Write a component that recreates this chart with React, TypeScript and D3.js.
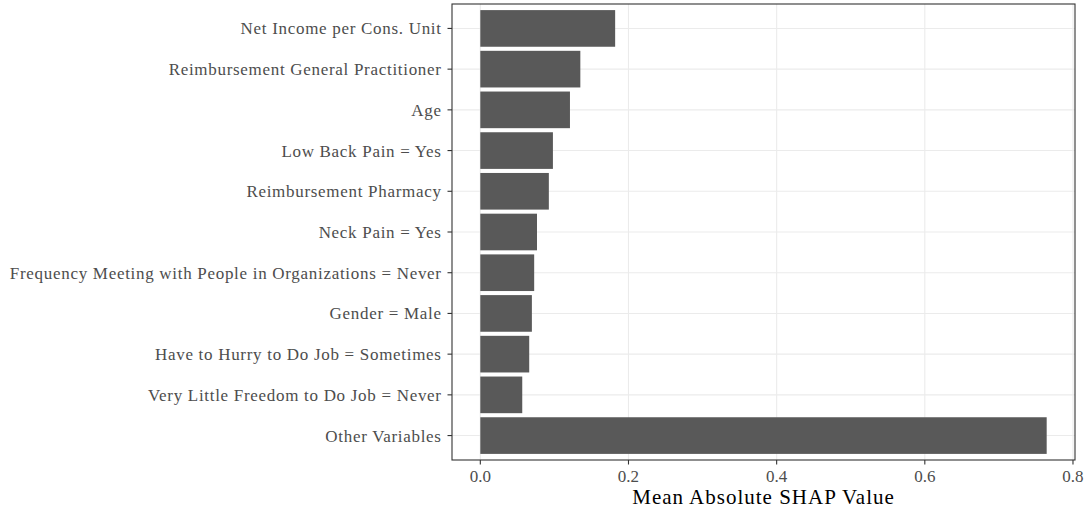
import * as d3 from "d3";

const features = [
  "Net Income per Cons. Unit",
  "Reimbursement General Practitioner",
  "Age",
  "Low Back Pain = Yes",
  "Reimbursement Pharmacy",
  "Neck Pain = Yes",
  "Frequency Meeting with People in Organizations = Never",
  "Gender = Male",
  "Have to Hurry to Do Job = Sometimes",
  "Very Little Freedom to Do Job = Never",
  "Other Variables",
];
const shapValues = [0.182, 0.135, 0.121, 0.098, 0.0925, 0.0765, 0.0727, 0.0696, 0.066, 0.0566, 0.7645];
const xTicks = [0, 0.2, 0.4, 0.6, 0.8];

const WIDTH = 1088;
const HEIGHT = 511;
const PANEL = { left: 452, right: 1075, top: 4, bottom: 460 };
const FONT = "'Liberation Serif', serif";
const BAR_FILL = "#595959";
const GRID = "#ebebeb";
const TEXT = "#4d4d4d";

export default function App() {
  const maxVal = d3.max(shapValues) ?? 1;
  const pad = maxVal * 0.05;

  const x = d3
    .scaleLinear()
    .domain([-pad, maxVal + pad])
    .range([PANEL.left, PANEL.right]);

  const y = d3
    .scaleBand<string>()
    .domain(features)
    .range([PANEL.top, PANEL.bottom])
    .paddingInner(0.1)
    .paddingOuter(0.15);

  const bw = y.bandwidth();

  return (
    <svg
      width={WIDTH}
      height={HEIGHT}
      style={{ position: "absolute", left: 0, top: 0, background: "#fff" }}
    >
      <rect x={0} y={0} width={WIDTH} height={HEIGHT} fill="#fff" />

      {/* grid */}
      {xTicks.map((t) => (
        <line
          key={"gx" + t}
          x1={x(t)}
          x2={x(t)}
          y1={PANEL.top}
          y2={PANEL.bottom}
          stroke={GRID}
          strokeWidth={1.1}
        />
      ))}
      {features.map((f) => (
        <line
          key={"gy" + f}
          x1={PANEL.left}
          x2={PANEL.right}
          y1={(y(f) ?? 0) + bw / 2}
          y2={(y(f) ?? 0) + bw / 2}
          stroke={GRID}
          strokeWidth={1.1}
        />
      ))}

      {/* bars */}
      {features.map((f, i) => (
        <rect
          key={"b" + f}
          x={x(0)}
          y={y(f)}
          width={x(shapValues[i]) - x(0)}
          height={bw}
          fill={BAR_FILL}
        />
      ))}

      {/* panel border */}
      <rect
        x={PANEL.left}
        y={PANEL.top}
        width={PANEL.right - PANEL.left}
        height={PANEL.bottom - PANEL.top}
        fill="none"
        stroke="#333"
        strokeWidth={1.1}
      />

      {/* y axis */}
      {features.map((f) => {
        const cy = (y(f) ?? 0) + bw / 2;
        return (
          <g key={"ty" + f}>
            <line x1={PANEL.left - 4.5} x2={PANEL.left} y1={cy} y2={cy} stroke="#333" strokeWidth={1.1} />
            <text
              x={PANEL.left - 10.3}
              y={cy}
              dy="0.35em"
              textAnchor="end"
              fontFamily={FONT}
              fontSize={17}
              letterSpacing={0.7}
              fill={TEXT}
            >
              {f}
            </text>
          </g>
        );
      })}

      {/* x axis */}
      {xTicks.map((t) => (
        <g key={"tx" + t}>
          <line x1={x(t)} x2={x(t)} y1={PANEL.bottom} y2={PANEL.bottom + 4.5} stroke="#333" strokeWidth={1.1} />
          <text
            x={x(t)}
            y={482}
            textAnchor="middle"
            fontFamily={FONT}
            fontSize={17}
            fill={TEXT}
          >
            {d3.format(".1f")(t)}
          </text>
        </g>
      ))}

      <text
        x={(PANEL.left + PANEL.right) / 2}
        y={504}
        textAnchor="middle"
        fontFamily={FONT}
        fontSize={21}
        letterSpacing={1}
        fill="#000"
      >
        Mean Absolute SHAP Value
      </text>
    </svg>
  );
}
